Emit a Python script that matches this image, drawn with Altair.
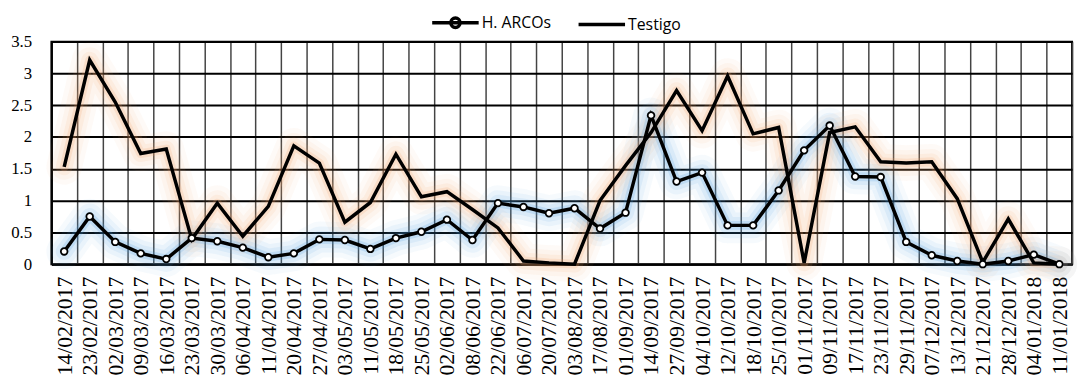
import altair as alt
import pandas as pd

dates = ["14/02/2017", "23/02/2017", "02/03/2017", "09/03/2017", "16/03/2017", "23/03/2017",
         "30/03/2017", "06/04/2017", "11/04/2017", "20/04/2017", "27/04/2017", "03/05/2017",
         "11/05/2017", "18/05/2017", "25/05/2017", "02/06/2017", "08/06/2017", "22/06/2017",
         "06/07/2017", "20/07/2017", "03/08/2017", "17/08/2017", "01/09/2017", "14/09/2017",
         "27/09/2017", "04/10/2017", "12/10/2017", "18/10/2017", "25/10/2017", "01/11/2017",
         "09/11/2017", "17/11/2017", "23/11/2017", "29/11/2017", "07/12/2017", "13/12/2017",
         "21/12/2017", "28/12/2017", "04/01/2018", "11/01/2018"]

arcos = [0.20, 0.75, 0.35, 0.17, 0.08, 0.41, 0.36, 0.26, 0.11, 0.17, 0.39, 0.38, 0.24, 0.41,
         0.51, 0.70, 0.38, 0.96, 0.90, 0.80, 0.88, 0.56, 0.81, 2.34, 1.30, 1.44, 0.61, 0.61,
         1.16, 1.79, 2.18, 1.38, 1.37, 0.35, 0.14, 0.05, 0.00, 0.05, 0.15, 0.00]

testigo = [1.53, 3.21, 2.55, 1.74, 1.81, 0.39, 0.96, 0.44, 0.91, 1.86, 1.59, 0.66, 0.97, 1.73,
           1.06, 1.14, 0.86, 0.57, 0.05, 0.02, 0.00, 1.00, 1.55, 2.07, 2.73, 2.10, 2.96, 2.05,
           2.15, 0.02, 2.07, 2.16, 1.61, 1.59, 1.61, 1.03, 0.03, 0.71, 0.02, 0.00]

series_names = ["H. ARCOs", "Testigo"]
glow_colors = ["#4A9BE0", "#F5A36B"]
y_ticks = [0, 0.5, 1, 1.5, 2, 2.5, 3, 3.5]

rows = []
for name, vals in zip(series_names, [arcos, testigo]):
    for d, v in zip(dates, vals):
        rows.append({"fecha": d, "serie": name, "leyenda": name, "valor": v})
df = pd.DataFrame(rows)

x = alt.X("fecha:N", sort=dates, title=None,
          scale=alt.Scale(type="band", paddingInner=0, paddingOuter=0),
          axis=alt.Axis(labelAngle=-90, labelAlign="right", labelBaseline="middle",
                        labelFont="Liberation Serif", labelFontSize=22, labelColor="#000",
                        labelPadding=12, ticks=False, domain=True, domainColor="#000",
                        domainWidth=2, grid=True, gridColor="#444", gridWidth=1.5,
                        tickBand="extent", labelOverlap=False))
y = alt.Y("valor:Q", title=None,
          scale=alt.Scale(domain=[0, 3.5], nice=False, zero=True),
          axis=alt.Axis(values=y_ticks, format="~g", labelFont="Liberation Serif",
                        labelFontSize=17, labelColor="#000", labelPadding=20, ticks=False,
                        domain=True, domainColor="#000", domainWidth=2, grid=True,
                        gridColor="#000", gridWidth=2))

base = alt.Chart(df)
# colour scale without an explicit domain (sorted order = series_names order)
glow_color = alt.Color("serie:N", scale=alt.Scale(range=glow_colors), legend=None)

glow_specs = [(36, 0.05), (26, 0.07), (17, 0.10), (9, 0.18)]
glows = [
    base.mark_line(strokeWidth=w, opacity=o, strokeJoin="round", strokeCap="round").encode(
        x=x, y=y, color=glow_color)
    for w, o in glow_specs
]

lines = base.mark_line(strokeWidth=3.5, color="#000", strokeJoin="miter").encode(x=x, y=y, detail="serie:N")

pts = base.transform_filter(alt.datum.serie == "H. ARCOs").mark_point(
    filled=True, fill="#ffffff", stroke="#000", strokeWidth=1.8, size=45, opacity=1
).encode(x=x, y=y)

legend_paths = ["M-2,0H2M-0.4,0A0.4,0.4 0 1,0 0.4,0A0.4,0.4 0 1,0 -0.4,0",
                "M-2,0H2"]
legend_layer = base.mark_point(opacity=0, filled=False).encode(
    x=x, y=y,
    shape=alt.Shape("leyenda:N", scale=alt.Scale(domain=series_names, range=legend_paths),
                    legend=alt.Legend(title=None, orient="none", direction="horizontal",
                                      legendX=395, legendY=-33, symbolSize=552,
                                      symbolStrokeWidth=3.5, symbolStrokeColor="#000",
                                      symbolFillColor="#ffffff", symbolOpacity=1,
                                      labelFont="Open Sans", labelFontSize=16, labelColor="#000",
                                      labelFontWeight="normal",
                                      labelOffset=13, columnPadding=20))
)

chart = alt.layer(*glows, lines, pts, legend_layer).properties(
    width=1032, height=225,
    padding={"left": 10, "top": 7, "right": 0, "bottom": 0}
).configure_view(stroke="#000", strokeWidth=2)

chart.save("out.html", embed_options={"renderer": "svg", "actions": False})
